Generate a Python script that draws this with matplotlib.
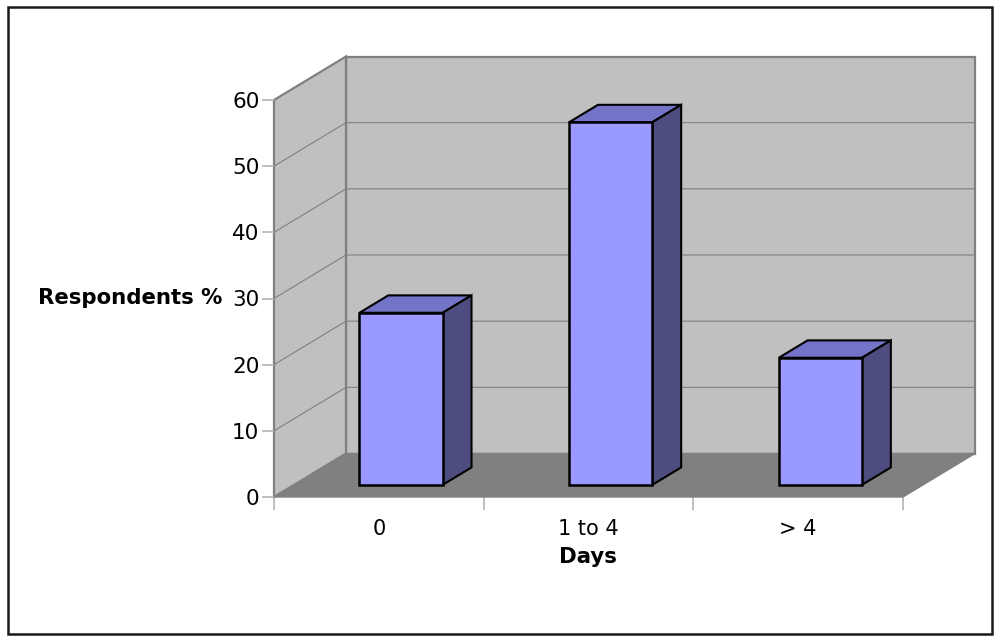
import matplotlib
matplotlib.use('Agg')
import matplotlib.pyplot as plt
from matplotlib.patches import Polygon, Rectangle

plt.rcParams['font.family'] = ['DejaVu Sans']

categories = ['0', '1 to 4', '> 4']
values = [26, 54.8, 19.2]
y_ticks = [0, 10, 20, 30, 40, 50, 60]

W, H = 1000, 641
# front plane of the chart in pixels
LEFT, RIGHT, BOTTOM, TOP = 274, 903, 497, 100
# depth of the box, in data units
DEPTH_X = 72 / ((RIGHT - LEFT) / 3)
DEPTH_Y = 43.5 / ((BOTTOM - TOP) / 60)
BAR_WIDTH = 0.397
BAR_SHIFT = 0.010
BAR_FRONT = 0.28
BAR_BACK = 0.68


def pt(x, y, d=0.0):
    # Oblique projection: d=0 is the front plane, d=1 the back wall.
    return (x + d * DEPTH_X, y + d * DEPTH_Y)


def face(ax, pts, color, edge, lw, z):
    ax.add_patch(Polygon(pts, closed=True, facecolor=color, edgecolor=edge, linewidth=lw,
                         joinstyle='miter', clip_on=False, zorder=z))


def draw_walls(ax):
    ymax = y_ticks[-1]
    n = len(categories)
    face(ax, [pt(0, 0, 1), pt(n, 0, 1), pt(n, ymax, 1), pt(0, ymax, 1)], '#c0c0c0', '#808080', 1.6, 1)
    face(ax, [pt(0, 0), pt(0, 0, 1), pt(0, ymax, 1), pt(0, ymax)], '#c0c0c0', '#808080', 1.6, 1)
    face(ax, [pt(0, 0), pt(n, 0), pt(n, 0, 1), pt(0, 0, 1)], '#808080', '#808080', 1.0, 2)
    for v in y_ticks[1:-1]:
        xs, ys = zip(pt(0, v), pt(0, v, 1), pt(n, v, 1))
        ax.plot(xs, ys, color='#808080', lw=0.8, clip_on=False, zorder=1.5)


def draw_bars(ax):
    for i, v in enumerate(values):
        x0 = i + 0.5 + BAR_SHIFT - BAR_WIDTH / 2
        x1 = x0 + BAR_WIDTH
        face(ax, [pt(x0, v, BAR_FRONT), pt(x1, v, BAR_FRONT), pt(x1, v, BAR_BACK), pt(x0, v, BAR_BACK)],
             '#7373c8', 'black', 1.5, 3)
        face(ax, [pt(x1, 0, BAR_FRONT), pt(x1, 0, BAR_BACK), pt(x1, v, BAR_BACK), pt(x1, v, BAR_FRONT)],
             '#4d4d80', 'black', 1.5, 3)
        face(ax, [pt(x0, 0, BAR_FRONT), pt(x1, 0, BAR_FRONT), pt(x1, v, BAR_FRONT), pt(x0, v, BAR_FRONT)],
             '#9999ff', 'black', 1.8, 4)


def main():
    fig = plt.figure(figsize=(W / 100, H / 100), dpi=100, facecolor='white')
    fig.add_artist(Rectangle((8 / W, 1 - 634 / H), 984 / W, 627 / H, transform=fig.transFigure,
                             facecolor='none', edgecolor='#1a1a1a', linewidth=1.8))
    ax = fig.add_axes([LEFT / W, 1 - BOTTOM / H, (RIGHT - LEFT) / W, (BOTTOM - TOP) / H])
    ax.patch.set_visible(False)
    ax.set_xlim(0, len(categories))
    ax.set_ylim(0, y_ticks[-1])
    for side in ['top', 'right', 'left', 'bottom']:
        ax.spines[side].set_visible(False)

    draw_walls(ax)
    draw_bars(ax)

    ax.set_yticks(y_ticks)
    ax.set_xticks(range(len(categories) + 1))
    ax.set_xticklabels([])
    ax.set_xticks([i + 0.5 for i in range(len(categories))], categories, minor=True)
    ax.tick_params(axis='both', which='major', color='#b4b4b4', length=9, width=1.2)
    ax.tick_params(axis='y', labelsize=15.5, pad=1.5)
    ax.tick_params(axis='x', which='minor', length=0, labelsize=15, pad=15.5)

    ax.set_xlabel('Days', fontsize=15.3, fontweight='bold')
    ax.xaxis.set_label_coords((588 - LEFT) / (RIGHT - LEFT), (BOTTOM - 557) / (BOTTOM - TOP))
    ax.xaxis.label.set_verticalalignment('center')
    ax.set_ylabel('Respondents %', fontsize=15.3, fontweight='bold', rotation=0, ha='right', va='center')
    ax.yaxis.set_label_coords((222 - LEFT) / (RIGHT - LEFT), (BOTTOM - 298) / (BOTTOM - TOP))

    fig.savefig('out.png', dpi=100)


if __name__ == '__main__':
    main()
